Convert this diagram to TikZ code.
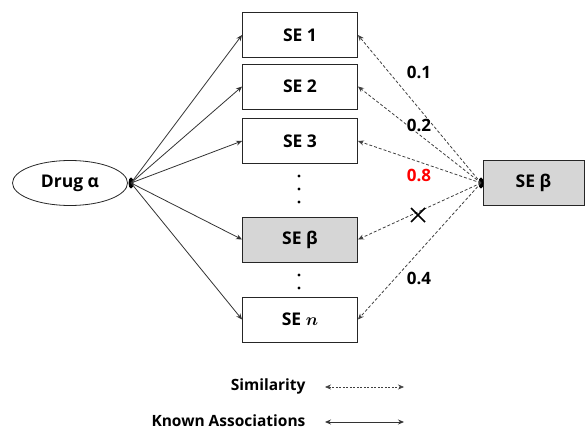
\documentclass[tikz,border=0pt]{standalone}
\usepackage{amsmath}
\usepackage{fontspec}
\setmainfont{Open Sans}
\usetikzlibrary{arrows.meta,shapes.geometric}
\begin{document}
\begin{tikzpicture}[x=1pt,y=-1pt,
  sebox/.style={draw=black!85,line width=0.9pt,minimum width=115pt,minimum height=45pt,inner sep=0pt,font=\fontsize{17.5}{20}\selectfont\bfseries},
  grayfill/.style={fill=black!16},
  known/.style={draw=black!80,line width=0.8pt,-{Stealth[length=6pt,width=5pt]}},
  simil/.style={draw=black!75,line width=0.8pt,dash pattern=on 3pt off 2pt,-{Stealth[length=6pt,width=5pt]}},
  val/.style={font=\fontsize{17}{19}\selectfont\bfseries},
  leg/.style={font=\fontsize{15.5}{17}\selectfont\bfseries,anchor=east},
  hub/.style={ellipse,fill=black,minimum width=5pt,minimum height=11pt,inner sep=0pt}]
\useasboundingbox (0,0) rectangle (586,430);
\node[draw=black!85,line width=0.8pt,ellipse,minimum width=115pt,minimum height=45pt,inner sep=0pt,font=\fontsize{17.5}{20}\selectfont\bfseries] (drug) at (70,183) {Drug α};
\node[sebox] (se1) at (300,35) {SE 1};
\node[sebox] (se2) at (300,86.5) {SE 2};
\node[sebox] (se3) at (300,141) {SE 3};
\node[sebox,grayfill] (seb) at (300,239.5) {SE β};
\node[sebox] (sen) at (300,319.5) {SE $\boldsymbol{n}$};
\node[sebox,grayfill,minimum width=101pt] (target) at (533.5,182.5) {SE β};
\node[hub] (h1) at (131,183) {};
\node[hub] (h2) at (481,183) {};
\foreach \y/\n in {176/d1,189/d2,202/d3,275/d4,288/d5}
  \fill (299,\y) circle (1.6pt) coordinate (\n);
\foreach \b in {se1,se2,se3,seb,sen}
  \draw[known] (h1.center) -- (\b.west);
\foreach \b in {se1,se2,se3,seb,sen}
  \draw[simil] (h2.center) -- (\b.east);
\node[val] (v1) at (419,72) {0.1};
\node[val] (v2) at (419,125) {0.2};
\node[val,text=red] (v3) at (419,175) {0.8};
\coordinate (x) at (418,215);
\draw[line width=1.6pt] ([shift={(-7,-7)}]x) -- ([shift={(7,7)}]x) ([shift={(-7,7)}]x) -- ([shift={(7,-7)}]x);
\node[val] (v4) at (419,278) {0.4};
\node[leg] (l1) at (309,386) {Similarity};
\node[leg] (l2) at (309,421) {Known Associations};
\coordinate (a1) at (325,387); \coordinate (b1) at (404,387);
\coordinate (a2) at (325,422); \coordinate (b2) at (404,422);
\draw[simil,{Stealth[length=6pt,width=5pt]}-{Stealth[length=6pt,width=5pt]},dash pattern=on 2pt off 1.5pt,line width=0.6pt] (a1) -- (b1);
\draw[known,{Stealth[length=6pt,width=5pt]}-{Stealth[length=6pt,width=5pt]}] (a2) -- (b2);
\end{tikzpicture}
\end{document}
